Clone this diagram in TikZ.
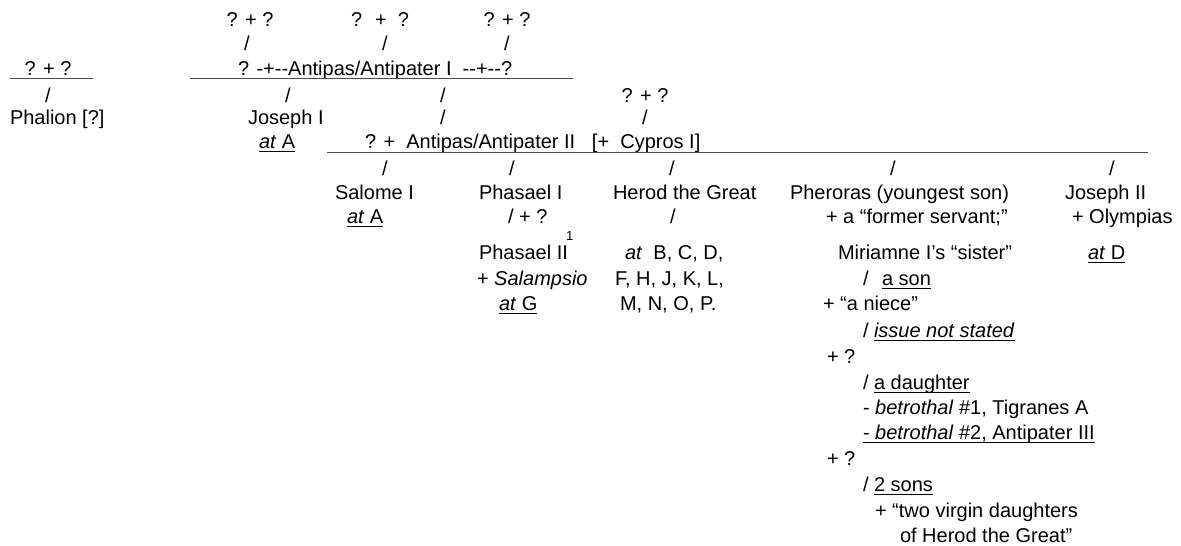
\documentclass[tikz,border=0pt]{standalone}
\usepackage{fontspec}
\setmainfont{Liberation Sans}
\newcommand\ulof[1]{\draw[ul] ([yshift=-3pt]#1.base west) -- ([yshift=-3pt]#1.base east);}
\newcommand\hy{-\kern0pt}
\begin{document}
\begin{tikzpicture}[x=1pt,y=-1pt,
  txt/.style={inner sep=0pt, outer sep=0pt, font=\fontsize{20}{24}\selectfont, text=black},
  lw/.style={txt, anchor=base west},
  ctr/.style={txt, anchor=base},
  rule/.style={draw=black!70, line width=1.6pt},
  ul/.style={draw=black, line width=0.9pt}]
\useasboundingbox (0,0) rectangle (1181,546);

% left branch
\node[ctr] (pq) at (48,75) {? + ?};
\coordinate (l0a) at (10,78.5); \coordinate (l0b) at (93,78.5);
\draw[rule] (l0a) -- (l0b);
\node[ctr] (ps) at (48,102) {/};
\node[lw] (phalion) at (10,124) {Phalion [?]};

% top parents
\node[ctr] (t1) at (250,27) {? + ?};
\node[ctr] (t1s) at (247,50) {/};
\node[ctr] (t2) at (380,27) {?~ +~ ?};
\node[ctr] (t2s) at (385,50) {/};
\node[ctr] (t3) at (507,27) {? + ?};
\node[ctr] (t3s) at (507,50) {/};
\node[lw] (antI) at (238,75) {? \hy+\hy\hy Antipas/Antipater I~ \hy\hy+\hy\hy?};
\coordinate (l1a) at (190,78.5); \coordinate (l1b) at (573,78.5);
\draw[rule] (l1a) -- (l1b);
\node[ctr] (s41) at (288,102) {/};
\node[ctr] (s42) at (443,102) {/};
\node[lw] (josI) at (248,124) {Joseph I};
\node[ctr] (s52) at (443,124) {/};
\node[lw] (atA1) at (259,148) {\textit{at} A};
\ulof{atA1}
\node[ctr] (cq) at (645,102) {? + ?};
\node[ctr] (cqs) at (645,124) {/};
\node[lw] (antII) at (365,148) {? +~ Antipas/Antipater II~~ [+~ Cypros I]};
\coordinate (l2a) at (327,152.5); \coordinate (l2b) at (1148,152.5);
\draw[rule] (l2a) -- (l2b);

% children slashes
\node[ctr] (c1s) at (385,175) {/};
\node[ctr] (c2s) at (512,175) {/};
\node[ctr] (c3s) at (672,175) {/};
\node[ctr] (c4s) at (893,175) {/};
\node[ctr] (c5s) at (1112,175) {/};

% children
\node[lw] (salome) at (335,199) {Salome I};
\node[lw] (phasI) at (479,199) {Phasael I};
\node[lw] (herod) at (613,199) {Herod the Great};
\node[lw] (pher) at (790,199) {Pheroras (youngest son)};
\node[lw] (josII) at (1065,199) {Joseph II};

% row 9
\node[lw] (atA2) at (347,223) {\textit{at} A};
\ulof{atA2}
\node[lw] (phq) at (508,223) {/ + ?};
\node[ctr] (hs) at (673,223) {/};
\node[lw] (fserv) at (826,223) {+ a “former servant;”};
\node[lw] (olym) at (1072,223) {+ Olympias};

% row 10
\node[lw] (phasII) at (479,259) {Phasael II};
\node[lw, font=\fontsize{13}{15}\selectfont] (sup1) at (566,240) {1};
\node[lw] (atB) at (625,259) {\textit{at}~ B, C, D,};
\node[lw] (miri) at (838,259) {Miriamne I’s “sister”};
\node[lw] (atD) at (1088,259) {\textit{at} D};
\ulof{atD}

% row 11
\node[lw] (salam) at (477,285) {+ \textit{Salampsio}};
\node[lw] (fh) at (615,285) {F, H, J, K, L,};
\node[lw] (sonsl) at (863,285) {/};
\node[lw] (ason) at (882,285) {a son};
\ulof{ason}

% row 12
\node[lw] (atG) at (499,310) {\textit{at} G};
\ulof{atG}
\node[lw] (mn) at (620,310) {M, N, O, P.};
\node[lw] (niece) at (823,310) {+ “a niece”};

% Pheroras lines
\node[lw] (iss) at (863,337) {/};
\node[lw] (issue) at (874,337) {\textit{issue not stated}};
\ulof{issue}
\node[lw] (pq1) at (827,363) {+ ?};
\node[lw] (dsl) at (863,389) {/};
\node[lw] (daught) at (874,389) {a daughter};
\ulof{daught}
\node[lw] (bet1) at (863,414) {- \textit{betrothal} \#1, Tigranes A};
\node[lw] (bet2) at (863,439) {- \textit{betrothal} \#2, Antipater III};
\ulof{bet2}
\node[lw] (pq2) at (827,465) {+ ?};
\node[lw] (ssl) at (863,491) {/};
\node[lw] (twosons) at (874,491) {2 sons};
\ulof{twosons}
\node[lw] (virg) at (875,517) {+ “two virgin daughters};
\node[lw] (ofh) at (900,542) {of Herod the Great”};
\end{tikzpicture}
\end{document}
